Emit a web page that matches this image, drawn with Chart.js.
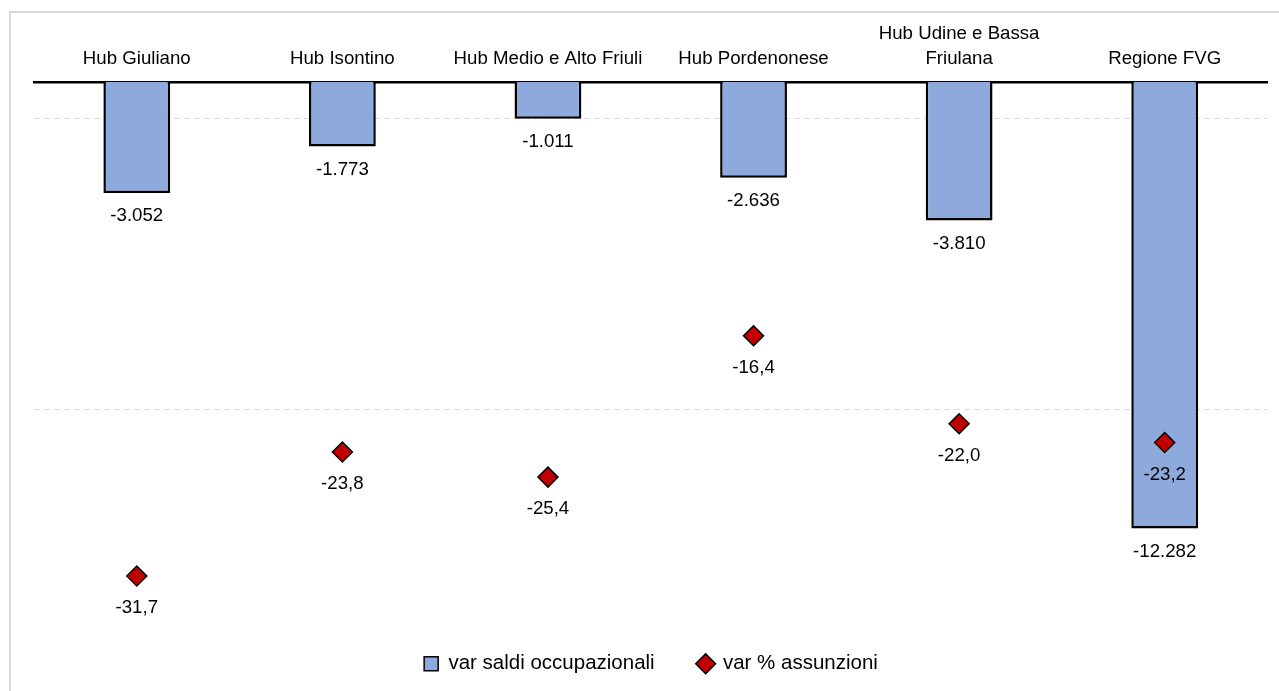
<!DOCTYPE html>
<html>
<head>
<meta charset="utf-8">
<script src="https://cdn.jsdelivr.net/npm/chart.js@4.4.0/dist/chart.umd.min.js"></script>
<style>
  html, body { margin: 0; padding: 0; background: #fff; overflow: hidden; }
  #frame { position: absolute; left: 9px; top: 11px; width: 1300px; height: 700px;
           border-top: 2px solid #d9d9d9; border-left: 2px solid #d9d9d9; }
  #wrap { position: absolute; left: 0; top: 0; width: 1279px; height: 691px; }
</style>
</head>
<body>
<div id="frame"></div>
<div id="wrap"><canvas id="chart"></canvas></div>
<script>
const hubs = ['Hub Giuliano', 'Hub Isontino', 'Hub Medio e Alto Friuli', 'Hub Pordenonese', ['Hub Udine e Bassa', 'Friulana'], 'Regione FVG'];
const saldi = [-3052, -1773, -1011, -2636, -3810, -12282];
const assunzioni = [-31.7, -23.8, -25.4, -16.4, -22.0, -23.2];
const saldiGrid = [-1000, -9000];

const FONT = '"Liberation Sans", Arial, sans-serif';

// 1.234 style thousands, 12,3 style decimals
function fmtInt(v) {
    const s = Math.abs(v).toString().replace(/\B(?=(\d{3})+(?!\d))/g, '.');
    return (v < 0 ? '-' : '') + s;
}
function fmtPct(v) {
    return v.toFixed(1).replace('.', ',');
}

const valueLabels = {
    id: 'valueLabels',
    afterDatasetsDraw(chart) {
        const ctx = chart.ctx;
        ctx.save();
        ctx.font = '18.67px ' + FONT;
        ctx.fillStyle = '#000';
        ctx.textAlign = 'center';
        ctx.textBaseline = 'middle';
        chart.getDatasetMeta(0).data.forEach((bar, i) => {
            ctx.fillText(fmtInt(saldi[i]), bar.x, bar.y + 23);
        });
        chart.getDatasetMeta(1).data.forEach((pt, i) => {
            ctx.fillText(fmtPct(assunzioni[i]), pt.x, pt.y + 32);
        });
        ctx.restore();
    }
};

const ctx = document.getElementById('chart').getContext('2d');
new Chart(ctx, {
    type: 'bar',
    data: {
        labels: hubs,
        datasets: [
            {
                label: 'var saldi occupazionali',
                data: saldi,
                backgroundColor: '#8EA9DB',
                borderColor: '#000',
                borderWidth: 2.5,
                barPercentage: 0.325,
                categoryPercentage: 1,
                pointStyle: 'rect',
                yAxisID: 'y',
                order: 2
            },
            {
                type: 'line',
                label: 'var % assunzioni',
                data: assunzioni,
                showLine: false,
                pointStyle: 'rectRot',
                pointRadius: 10,
                pointHoverRadius: 10,
                backgroundColor: '#C00000',
                borderColor: '#000',
                borderWidth: 1.5,
                yAxisID: 'y1',
                order: 1
            }
        ]
    },
    options: {
        responsive: true,
        maintainAspectRatio: false,
        animation: false,
        layout: { padding: { left: 34, right: 11, top: 0, bottom: 7 } },
        scales: {
            x: {
                position: 'top',
                grid: { display: false, drawTicks: false },
                border: { display: true, color: '#000', width: 2.5 },
                ticks: {
                    color: '#000',
                    font: { family: FONT, size: 18.67, lineHeight: 1.33 },
                    padding: 11,
                    maxRotation: 0,
                    autoSkip: false
                },
                afterFit: s => { s.height = 82; }
            },
            y: {
                min: -14514,
                max: 0,
                ticks: { display: false },
                grid: { color: '#d9d9d9', lineWidth: 1, drawTicks: false },
                border: { display: false, dash: [6, 4] },
                afterBuildTicks: s => { s.ticks = saldiGrid.map(v => ({ value: v })); },
                afterFit: s => { s.width = 0; }
            },
            y1: {
                display: false,
                min: -33.83,
                max: -0.242
            }
        },
        plugins: {
            tooltip: { enabled: false },
            legend: {
                position: 'bottom',
                labels: {
                    color: '#000',
                    font: { family: FONT, size: 20.5 },
                    usePointStyle: true,
                    boxWidth: 14,
                    boxHeight: 14,
                    padding: 44,
                    generateLabels(chart) {
                        const items = Chart.defaults.plugins.legend.labels.generateLabels(chart);
                        items.forEach(it => { it.lineWidth = 1.5; });
                        return items;
                    },
                    sort: (a, b) => a.datasetIndex - b.datasetIndex
                }
            }
        }
    },
    plugins: [valueLabels]
});
</script>
</body>
</html>
